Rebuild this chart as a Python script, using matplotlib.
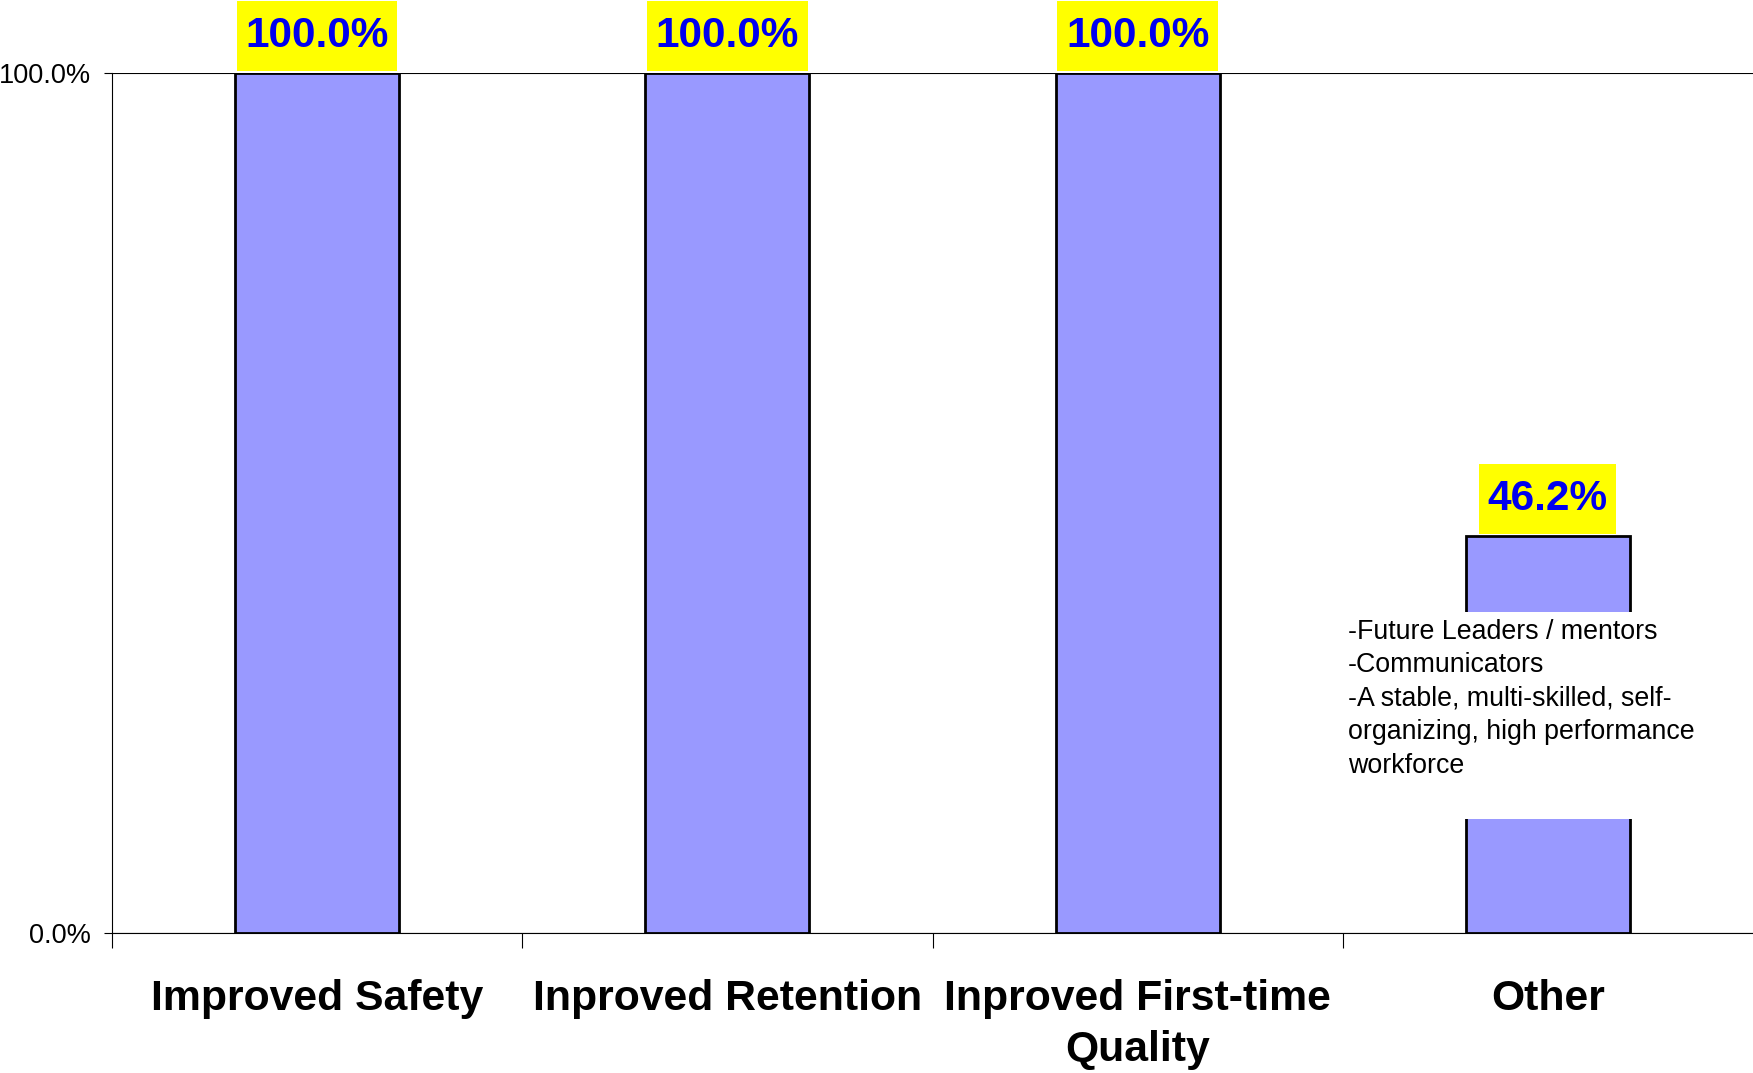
import numpy as np
import matplotlib
matplotlib.use("Agg")
import matplotlib.pyplot as plt

# chart data
categories = ["Improved Safety", "Inproved Retention",
              "Inproved First-time\nQuality", "Other"]
values = [1.0, 1.0, 1.0, 0.462]
value_labels = ["100.0%", "100.0%", "100.0%", "46.2%"]
y_ticks = [0.0, 1.0]
y_tick_labels = ["0.0%", "100.0%"]
other_note = ("-Future Leaders / mentors\n-Communicators\n"
              "-A stable, multi-skilled, self-\n"
              "organizing, high performance\nworkforce\n")

plt.rcParams['font.family'] = ['Liberation Sans', 'DejaVu Sans']

fig = plt.figure(figsize=(17.53, 10.73), dpi=100)
ax = fig.add_axes([112 / 1753, 140 / 1073, 1 - 112 / 1753, 860 / 1073])

x = np.arange(len(categories))
ax.bar(x, values, width=0.4, color='#9999FF', edgecolor='black',
       linewidth=2.0, zorder=2)

# value labels on yellow boxes
for xi, v, lab in zip(x, values, value_labels):
    ax.annotate(lab, (xi, v), xytext=(0, 26.5), textcoords='offset points',
                ha='center', va='center', fontsize=30.5, fontweight='bold',
                color='#0000EE', annotation_clip=False, zorder=4,
                bbox=dict(boxstyle='square,pad=0.2', facecolor='#FFFF00',
                          edgecolor='none', mutation_aspect=1.8))

# note over the "Other" bar (white box hides part of the bar)
ax.text(2.512, 0.365, other_note, ha='left', va='top', fontsize=19.3,
        linespacing=1.37, zorder=5,
        bbox=dict(boxstyle='square,pad=0.1', facecolor='white',
                  edgecolor='none', mutation_aspect=2.5))

ax.set_xlim(-0.5, 3.5)
ax.set_ylim(0, 1)

ax.set_yticks(y_ticks)
ax.set_yticklabels(y_tick_labels, fontsize=19.5)
ax.tick_params(axis='y', direction='out', length=6, width=0.8, pad=9)

ax.set_xticks(np.arange(-0.5, 3.0, 1.0))
ax.set_xticklabels([])
ax.tick_params(axis='x', which='major', direction='out', length=11,
               width=0.8)
ax.set_xticks(x, minor=True)
ax.set_xticklabels(categories, minor=True, fontsize=30.8,
                   fontweight='bold', linespacing=1.37)
ax.tick_params(axis='x', which='minor', length=0, pad=33)

ax.grid(axis='y', color='black', linewidth=0.8, zorder=0)
ax.set_axisbelow(True)
for side in ['top', 'right']:
    ax.spines[side].set_visible(False)
for side in ['left', 'bottom']:
    ax.spines[side].set_linewidth(0.8)

fig.savefig('out.png', dpi=100)
